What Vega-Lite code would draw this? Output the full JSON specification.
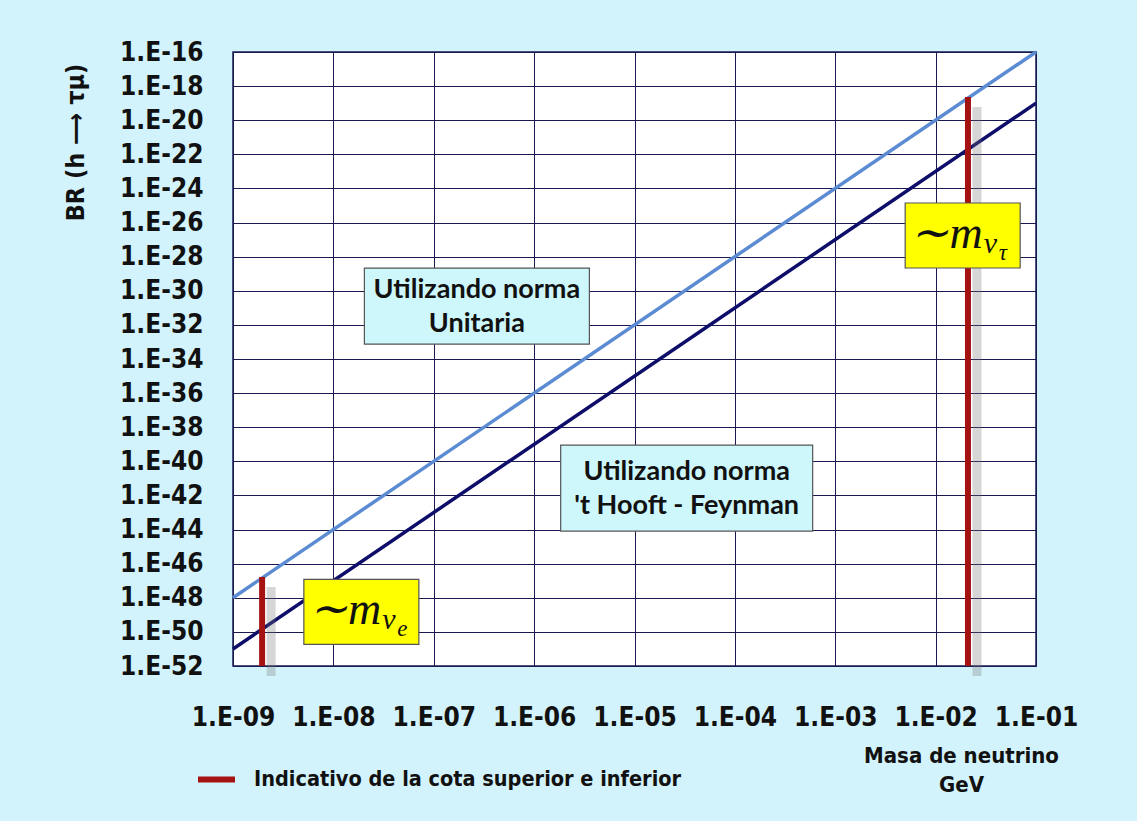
{
  "$schema": "https://vega.github.io/schema/vega-lite/v6.json",
  "width": 803,
  "height": 614,
  "autosize": {"type": "none"},
  "padding": {"left": 233, "top": 52, "right": 101, "bottom": 155},
  "background": "#D3F3FC",
  "config": {
    "view": {"fill": "white", "stroke": "#1a1a50", "strokeWidth": 1.5},
    "font": "DejaVu Sans Condensed"
  },
  "datasets": {
    "lines": [
      {"series": "Unitaria", "x": 1e-9, "y": 1e-48},
      {"series": "Unitaria", "x": 1e-1, "y": 1e-16},
      {"series": "tHooft", "x": 1e-9, "y": 1e-51},
      {"series": "tHooft", "x": 1e-1, "y": 1e-19}
    ],
    "bounds": [
      {"x": 1.95e-9, "y": 1e-52, "y2": 1.66e-47},
      {"x": 2.1e-2, "y": 1e-52, "y2": 2.29e-19}
    ],
    "notes": [
      {"id": "u", "x": 2.69e-7, "y": 1.26e-31, "text": "Utilizando norma\nUnitaria"},
      {"id": "t", "x": 3.31e-5, "y": 2.69e-42, "text": "Utilizando norma\n't Hooft - Feynman"}
    ],
    "masses": [
      {"id": "e", "x": 1.9e-8, "y": 1.51e-49, "sub": "e"},
      {"id": "tau", "x": 1.86e-2, "y": 1.74e-27, "sub": "τ"}
    ]
  },
  "encoding": {
    "x": {
      "field": "x", "type": "quantitative",
      "scale": {"type": "log", "domain": [1e-9, 1e-1], "nice": false},
      "axis": {
        "values": [1e-9, 1e-8, 1e-7, 1e-6, 1e-5, 1e-4, 1e-3, 1e-2, 1e-1],
        "labelExpr": "'1.E-' + (abs(round(log(datum.value)/LN10)) < 10 ? '0' : '') + abs(round(log(datum.value)/LN10))",
        "labelFont": "DejaVu Sans Condensed", "labelFontSize": 26, "labelFontWeight": "bold", "labelColor": "#111",
        "labelPadding": 38, "tickSize": 0, "domain": false, "labelOverlap": false, "labelFlush": false,
        "grid": true, "gridColor": "#1a1a50", "gridWidth": 1, "gridOpacity": 1,
        "title": ["Masa de neutrino", "GeV"],
        "titleFont": "DejaVu Sans Condensed", "titleFontSize": 22, "titleFontWeight": "bold", "titleColor": "#111",
        "titleX": 728, "titleY": 79, "titleAnchor": null, "titleAlign": "center", "titleBaseline": "top", "titleLineHeight": 29
      }
    },
    "y": {
      "field": "y", "type": "quantitative",
      "scale": {"type": "log", "domain": [1e-52, 1e-16], "nice": false},
      "axis": {
        "values": [1e-16, 1e-18, 1e-20, 1e-22, 1e-24, 1e-26, 1e-28, 1e-30, 1e-32, 1e-34, 1e-36, 1e-38, 1e-40, 1e-42, 1e-44, 1e-46, 1e-48, 1e-50, 1e-52],
        "labelExpr": "'1.E-' + (abs(round(log(datum.value)/LN10)) < 10 ? '0' : '') + abs(round(log(datum.value)/LN10))",
        "labelFont": "DejaVu Sans Condensed", "labelFontSize": 26, "labelFontWeight": "bold", "labelColor": "#111",
        "labelPadding": 30, "tickSize": 0, "domain": false, "labelOverlap": false, "labelFlush": false,
        "grid": true, "gridColor": "#1a1a50", "gridWidth": 1, "gridOpacity": 1,
        "title": "BR (h ⟶ τμ)",
        "titleFont": "DejaVu Sans Condensed", "titleFontSize": 25, "titleFontWeight": "bold", "titleColor": "#111",
        "titleAngle": -90, "titleX": -158, "titleY": 90, "titleAnchor": null, "titleAlign": "center", "titleBaseline": "middle"
      }
    }
  },
  "layer": [
    {
      "data": {"name": "lines"},
      "mark": {"type": "line", "strokeWidth": 3.5},
      "encoding": {
        "color": {"field": "series", "type": "nominal", "scale": {"domain": ["Unitaria", "tHooft"], "range": ["#5B8BD2", "#0E0E6A"]}, "legend": null}
      }
    },
    {
      "data": {"name": "bounds"},
      "mark": {"type": "rule", "strokeWidth": 9, "color": "#777", "opacity": 0.3, "xOffset": 9, "yOffset": 10, "y2Offset": 10},
      "encoding": {"y2": {"field": "y2"}}
    },
    {
      "data": {"name": "bounds"},
      "mark": {"type": "rule", "strokeWidth": 6},
      "encoding": {
        "y2": {"field": "y2"},
        "stroke": {
          "datum": "Indicativo de la cota superior e inferior",
          "type": "nominal",
          "scale": {"range": ["#A51212"]},
          "legend": {
            "title": null, "orient": "none", "legendX": -38, "legendY": 706,
            "symbolType": "stroke", "symbolSize": 1369, "symbolStrokeWidth": 6,
            "labelFont": "DejaVu Sans Condensed", "labelFontSize": 21.5, "labelFontWeight": "bold", "labelColor": "#111", "labelOffset": 16, "labelLimit": 700
          }
        }
      }
    },
    {
      "data": {"name": "notes"},
      "transform": [{"filter": "datum.id == 'u'"}],
      "mark": {"type": "rect", "width": 225, "height": 76, "fill": "#CDF7FB", "stroke": "#555", "strokeWidth": 1.2}
    },
    {
      "data": {"name": "notes"},
      "transform": [{"filter": "datum.id == 't'"}],
      "mark": {"type": "rect", "width": 252, "height": 86, "fill": "#CDF7FB", "stroke": "#555", "strokeWidth": 1.2}
    },
    {
      "data": {"name": "notes"},
      "mark": {"type": "text", "font": "Lato", "fontWeight": "bold", "fontSize": 27, "lineBreak": "\n", "lineHeight": 34, "align": "center", "baseline": "middle", "dy": -16, "color": "#111"},
      "encoding": {"text": {"field": "text"}}
    },
    {
      "data": {"name": "masses"},
      "mark": {"type": "rect", "width": 115, "height": 65, "fill": "#FFFF00", "stroke": "#555", "strokeWidth": 1.2}
    },
    {
      "data": {"name": "masses"},
      "mark": {"type": "text", "font": "Liberation Serif", "fontStyle": "italic", "fontSize": 46, "align": "right", "baseline": "middle", "dx": 20, "dy": -2, "color": "#111", "text": "∼m"}
    },
    {
      "data": {"name": "masses"},
      "mark": {"type": "text", "font": "Liberation Serif", "fontStyle": "italic", "fontSize": 30, "align": "left", "baseline": "middle", "dx": 21, "dy": 8, "color": "#111", "text": "ν"}
    },
    {
      "data": {"name": "masses"},
      "mark": {"type": "text", "font": "Liberation Serif", "fontStyle": "italic", "fontSize": 23, "align": "left", "baseline": "middle", "dx": 36, "dy": 17, "color": "#111"},
      "encoding": {"text": {"field": "sub"}}
    }
  ]
}
